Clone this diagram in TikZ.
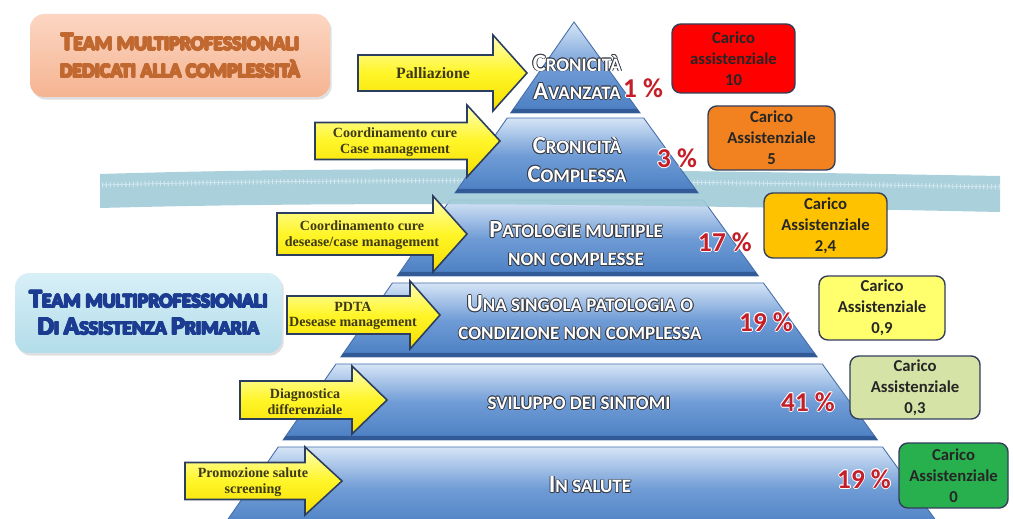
\documentclass[tikz,border=0pt]{standalone}
\usepackage{fontspec}
\setmainfont{Carlito}
\newfontfamily\arrowfont{Liberation Serif}
\usetikzlibrary{calc,shadows}
\definecolor{LayerTop}{RGB}{214,229,246}
\definecolor{LayerMid}{RGB}{112,156,214}
\definecolor{LayerBot}{RGB}{74,126,194}
\definecolor{LayerLine}{RGB}{70,110,170}
\definecolor{LayerEdge}{RGB}{50,90,150}
\definecolor{LayerInk}{RGB}{55,60,70}
\definecolor{BandTeal}{RGB}{160,203,215}
\definecolor{BandDot}{RGB}{208,230,238}
\definecolor{ArrowTop}{RGB}{255,255,185}
\definecolor{ArrowMid}{RGB}{255,245,40}
\definecolor{ArrowBot}{RGB}{246,222,0}
\definecolor{ArrowEdge}{RGB}{44,62,96}
\definecolor{ArrowText}{RGB}{62,58,22}
\definecolor{PctRed}{RGB}{196,30,40}
\definecolor{PeachTop}{RGB}{252,214,194}
\definecolor{PeachBot}{RGB}{245,180,146}
\definecolor{PeachText}{RGB}{192,104,48}
\definecolor{IceTop}{RGB}{216,239,247}
\definecolor{IceBot}{RGB}{178,221,234}
\definecolor{IceText}{RGB}{28,60,145}
\definecolor{BoxEdge}{RGB}{50,62,90}
\definecolor{LoadRed}{RGB}{255,0,0}
\definecolor{LoadOrange}{RGB}{242,130,32}
\definecolor{LoadGold}{RGB}{255,194,0}
\definecolor{LoadYellow}{RGB}{255,255,110}
\definecolor{LoadOlive}{RGB}{214,227,166}
\definecolor{LoadGreen}{RGB}{40,176,78}
% outlined text: one copy per offset, then the text itself
\newcommand\rimcopy[4]{\rlap{\color{#1}\kern#2\raise#3\hbox{#4}}}
\newcommand\rimtext[2]{\leavevmode\rimcopy{#1}{.5pt}{0pt}{#2}\rimcopy{#1}{-.5pt}{0pt}{#2}\rimcopy{#1}{0pt}{.5pt}{#2}\rimcopy{#1}{0pt}{-.5pt}{#2}\rimcopy{#1}{.35pt}{.35pt}{#2}\rimcopy{#1}{-.35pt}{.35pt}{#2}\rimcopy{#1}{.35pt}{-.35pt}{#2}\rimcopy{#1}{-.35pt}{-.35pt}{#2}#2}
\newcommand\bigini[1]{\scalebox{1.3}{#1}}
% one slice of the pyramid between two heights
\newcommand\pyrlayer[2]{%
  \path[layer] ({574-0.696*(#1-22)},#1) -- ({574+0.726*(#1-22)},#1)
    -- ({574+0.726*(#2-22)},#2) -- ({574-0.696*(#2-22)},#2) -- cycle;
  \fill[LayerEdge] ({574-0.696*(#2-26)},{#2-4}) -- ({574+0.726*(#2-26)},{#2-4})
    -- ({574+0.726*(#2-22)},#2) -- ({574-0.696*(#2-22)},#2) -- cycle;}
% block arrow: left, head base, tip, centre y, half body, half head
\newcommand\blockarrow[6]{%
  \path[yarrow] (#1,{#4-#5}) -- (#2,{#4-#5}) -- (#2,{#4-#6}) -- (#3,#4)
    -- (#2,{#4+#6}) -- (#2,{#4+#5}) -- (#1,{#4+#5}) -- cycle;}
\tikzset{
  layer/.style={top color=LayerTop,bottom color=LayerBot,middle color=LayerMid,draw=LayerLine,line width=.5pt},
  band/.style={fill=BandTeal,fill opacity=.9},
  banddots/.style={draw=BandDot,line width=.5pt},
  bandticks/.style={draw=BandDot,line width=3pt,dash pattern=on .6pt off 1.6pt},
  yarrow/.style={top color=ArrowTop,bottom color=ArrowBot,middle color=ArrowMid,draw=ArrowEdge,line width=.9pt,line join=miter},
  atext/.style={font=\arrowfont\bfseries\fontsize{8}{9}\selectfont,text=ArrowText,align=center,inner sep=0pt},
  lvtext/.style={font=\bfseries\fontsize{10.8}{16}\selectfont,text=white,align=center,inner sep=0pt},
  pct/.style={font=\bfseries\fontsize{15.5}{16}\selectfont,text=PctRed,inner sep=0pt},
  load/.style={draw=BoxEdge,line width=.8pt,rounded corners=5pt,align=center,text=black!85,font=\bfseries\fontsize{9.5}{12}\selectfont,inner sep=0pt},
  team/.style={rounded corners=8pt,align=center,font=\bfseries\fontsize{11.3}{15.5}\selectfont,drop shadow={shadow xshift=1pt,shadow yshift=-1.5pt,opacity=.25}}
}
\begin{document}
\begin{tikzpicture}[x=0.02cm,y=-0.02cm]
  \useasboundingbox (0,0) rectangle (1013,519);
  \clip (0,0) rectangle (1013,519);
  % lower slices, under the band
  \pyrlayer{200}{276}
  \pyrlayer{283}{357}
  \pyrlayer{364}{440}
  \pyrlayer{447}{530}
  \fill[band] (100,174) .. controls (400,165) and (700,171) .. (1000,176) -- (1000,212) .. controls (700,206) and (400,200) .. (100,208) -- cycle;
  \draw[banddots] (102,185) .. controls (400,177) and (700,182) .. (1000,187);
  \draw[bandticks] (102,185) .. controls (400,177) and (700,182) .. (1000,187);
  % upper slices
  \pyrlayer{22}{113}
  \pyrlayer{118}{193}

  \blockarrow{358}{493}{527}{73}{18}{38}
  \blockarrow{315}{467}{500}{141}{18.5}{36}
  \blockarrow{277}{433}{467}{234}{21}{38}
  \blockarrow{287}{410}{440}{315}{19}{34}
  \blockarrow{240}{352}{387}{400}{19}{34}
  \blockarrow{185}{305}{342}{481}{18.5}{34}
  \node[atext,font=\arrowfont\bfseries\fontsize{9}{10}\selectfont] (aPalliazione) at (433,73) {Palliazione};
  \node[atext] (aCase) at (395,142) {Coordinamento cure\\Case management};
  \node[atext] (aDesease) at (362,235) {Coordinamento cure\\desease/case management};
  \node[atext] (aPdta) at (353,316) {PDTA\\Desease management};
  \node[atext] (aDiagnostica) at (305,402) {Diagnostica\\differenziale};
  \node[atext] (aPromozione) at (253,482) {Promozione salute\\screening};

  \node[lvtext] (tAvanzata) at (577,77) {\rimtext{LayerInk}{\bigini{C}RONICITÀ}\\\rimtext{LayerInk}{\bigini{A}VANZATA}};
  \node[lvtext] (tComplessa) at (577,160) {\rimtext{LayerInk}{\bigini{C}RONICITÀ}\\\rimtext{LayerInk}{\bigini{C}OMPLESSA}};
  \node[lvtext] (tMultiple) at (576,244) {\rimtext{LayerInk}{\bigini{P}ATOLOGIE MULTIPLE}\\\rimtext{LayerInk}{NON COMPLESSE}};
  \node[lvtext] (tSingola) at (580,318) {\rimtext{LayerInk}{\bigini{U}NA SINGOLA PATOLOGIA O}\\\rimtext{LayerInk}{CONDIZIONE NON COMPLESSA}};
  \node[lvtext] (tSintomi) at (579,403) {\rimtext{LayerInk}{SVILUPPO DEI SINTOMI}};
  \node[lvtext] (tSalute) at (590,485) {\rimtext{LayerInk}{\bigini{I}N SALUTE}};

  \node[pct] (pAvanzata) at (643,88) {\rimtext{white}{1 \%}};
  \node[pct] (pComplessa) at (677,158) {\rimtext{white}{3 \%}};
  \node[pct] (pMultiple) at (725,242) {\rimtext{white}{17 \%}};
  \node[pct] (pSingola) at (766,322) {\rimtext{white}{19 \%}};
  \node[pct] (pSintomi) at (808,402) {\rimtext{white}{41 \%}};
  \node[pct] (pSalute) at (864,479) {\rimtext{white}{19 \%}};

  \node[load,fill=LoadRed,minimum width=2.46cm,minimum height=1.38cm] (cAvanzata) at (733.5,58.5) {Carico\\assistenziale\\10};
  \node[load,fill=LoadOrange,minimum width=2.54cm,minimum height=1.28cm] (cComplessa) at (771.5,138) {Carico\\Assistenziale\\5};
  \node[load,fill=LoadGold,minimum width=2.46cm,minimum height=1.3cm] (cMultiple) at (825.5,225.5) {Carico\\Assistenziale\\2,4};
  \node[load,fill=LoadYellow,minimum width=2.52cm,minimum height=1.28cm] (cSingola) at (882,308) {Carico\\Assistenziale\\0,9};
  \node[load,fill=LoadOlive,minimum width=2.6cm,minimum height=1.26cm] (cSintomi) at (915,387.5) {Carico\\Assistenziale\\0,3};
  \node[load,fill=LoadGreen,minimum width=2.18cm,minimum height=1.3cm] (cSalute) at (953.5,475.5) {Carico\\Assistenziale\\0};

  \node[team,top color=PeachTop,bottom color=PeachBot,minimum width=6cm,minimum height=1.66cm,text=PeachText] (teamComplex) at (180,55.5)
    {\rimtext{PeachText}{\bigini{T}EAM MULTIPROFESSIONALI}\\\rimtext{PeachText}{DEDICATI ALLA COMPLESSITÀ}};
  \node[team,top color=IceTop,bottom color=IceBot,minimum width=5.34cm,minimum height=1.6cm,text=IceText] (teamPrimary) at (148.5,313)
    {\rimtext{IceText}{\bigini{T}EAM MULTIPROFESSIONALI}\\\rimtext{IceText}{\bigini{D}I \bigini{A}SSISTENZA \bigini{P}RIMARIA}};
\end{tikzpicture}
\end{document}
